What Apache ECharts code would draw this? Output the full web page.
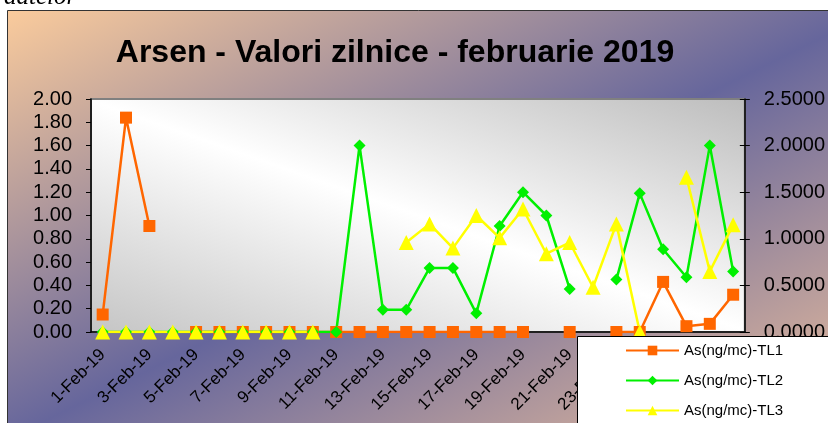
<!DOCTYPE html>
<html>
<head>
<meta charset="utf-8">
<script src="https://cdn.jsdelivr.net/npm/echarts@6/dist/echarts.min.js"></script>
<style>
  html, body { margin: 0; padding: 0; background: #fff; }
  #chart { width: 828px; height: 423px; }
</style>
</head>
<body>
<div id="chart"></div>
<script>
// zile februarie 2019
const days = []
for (let d = 1; d <= 28; d++) days.push(d + '-Feb-19')

// As(ng/mc) - valori (null = lipsa date)
const tl1 = [0.15, 1.84, 0.91, null, 0, 0, 0, 0, 0, 0, 0, 0, 0, 0, 0, 0, 0, 0, 0, null,
  0, null, 0, 0, 0.43, 0.05, 0.07, 0.32]
const tl2 = [0, 0, 0, 0, 0, 0, 0, 0, 0, 0, 0, 1.60, 0.19, 0.19, 0.55, 0.55, 0.16, 0.91, 1.20, 1.00,
  0.37, null, 0.45, 1.19, 0.71, 0.47, 1.60, 0.52]
// TL3 pe axa secundara
const tl3 = [0, 0, 0, 0, 0, 0, 0, 0, 0, 0, null, null, null, 0.96, 1.16, 0.90, 1.25, 1.01, 1.32, 0.84,
  0.96, 0.48, 1.16, 0, null, 1.66, 0.65, 1.15]

const seriesNames = ['As(ng/mc)-TL1', 'As(ng/mc)-TL2', 'As(ng/mc)-TL3']

const chart = echarts.init(document.getElementById('chart'))

const blackLine = { color: '#000', width: 1.5 }

const option = {
  animation: false,
  textStyle: { fontFamily: 'Liberation Sans, Arial, sans-serif' },
  graphic: [
    {
      type: 'rect',
      z: -10,
      shape: { x: 7.5, y: 10.5, width: 850, height: 440 },
      style: {
        fill: {
          type: 'linear', x: 0.296, y: -0.297, x2: 0.703, y2: 1.294,
          colorStops: [
            { offset: 0, color: '#fdcd9c' },
            { offset: 0.5, color: '#66669c' },
            { offset: 1, color: '#f6c69c' }
          ]
        },
        stroke: '#333',
        lineWidth: 1
      }
    },
    {
      type: 'text',
      left: 4,
      top: -15,
      style: { text: 'datelor', font: 'italic 25px "Liberation Serif", serif', fill: '#000' }
    },
    {
      type: 'rect',
      z: 50,
      shape: { x: 577.5, y: 336.5, width: 300, height: 100 },
      style: { fill: '#fff', stroke: '#000', lineWidth: 1 }
    }
  ],
  title: {
    text: 'Arsen - Valori zilnice - februarie 2019',
    left: 390,
    textAlign: 'center',
    top: 32,
    textStyle: { fontSize: 32, fontWeight: 'bold', color: '#000' }
  },
  legend: {
    data: seriesNames,
    orient: 'vertical',
    left: 625,
    top: 343,
    z: 60,
    padding: 0,
    itemWidth: 53,
    itemHeight: 12,
    itemGap: 15,
    textStyle: { fontSize: 15, color: '#000' }
  },
  grid: {
    left: 91,
    right: 81,
    top: 99,
    bottom: 91,
    show: true,
    borderColor: '#808080',
    borderWidth: 2,
    backgroundColor: {
      type: 'linear', x: 0.388, y: 1.389, x2: 0.612, y2: -0.389,
      colorStops: [
        { offset: 0, color: '#c4c4c4' },
        { offset: 0.5, color: '#ffffff' },
        { offset: 1, color: '#bcbcbc' }
      ]
    }
  },
  xAxis: [
    {
      type: 'category',
      data: days,
      position: 'bottom',
      boundaryGap: true,
      axisLine: { lineStyle: blackLine },
      axisTick: { interval: 0, length: 5, lineStyle: { color: '#000' } },
      axisLabel: { interval: 1, rotate: 45, fontSize: 17, color: '#000', margin: 20 }
    },
    {
      // doar liniutele din interior
      type: 'category',
      data: days,
      position: 'bottom',
      boundaryGap: true,
      axisLine: { show: false },
      axisTick: { interval: 0, inside: true, length: 5, lineStyle: { color: '#000' } },
      axisLabel: { show: false }
    }
  ],
  yAxis: [
    {
      type: 'value',
      min: 0,
      max: 2,
      interval: 0.2,
      splitLine: { show: false },
      axisLine: { show: true, lineStyle: blackLine },
      axisTick: { show: true, length: 5, lineStyle: { color: '#000' } },
      axisLabel: { fontSize: 20, color: '#000', margin: 19, formatter: v => v.toFixed(2) }
    },
    {
      type: 'value',
      min: 0,
      max: 2.5,
      interval: 0.5,
      position: 'right',
      splitLine: { show: false },
      axisLine: { show: true, lineStyle: blackLine },
      axisTick: { show: true, length: 5, lineStyle: { color: '#000' } },
      axisLabel: { fontSize: 20, color: '#000', margin: 19, formatter: v => v.toFixed(4) }
    },
    {
      type: 'value',
      min: 0,
      max: 2.5,
      interval: 0.5,
      position: 'right',
      splitLine: { show: false },
      axisLine: { show: false },
      axisTick: { show: true, inside: true, length: 5, lineStyle: { color: '#000' } },
      axisLabel: { show: false }
    }
  ],
  series: [
    {
      name: seriesNames[0],
      type: 'line',
      data: tl1,
      symbol: 'rect',
      symbolSize: 12,
      color: '#ff6600',
      lineStyle: { width: 2.5 }
    },
    {
      name: seriesNames[1],
      type: 'line',
      data: tl2,
      symbol: 'diamond',
      symbolSize: 12,
      color: '#00f000',
      lineStyle: { width: 2.5 }
    },
    {
      name: seriesNames[2],
      type: 'line',
      yAxisIndex: 1,
      data: tl3,
      symbol: 'triangle',
      symbolSize: 15,
      color: '#ffff00',
      lineStyle: { width: 2.5 }
    }
  ]
}

chart.setOption(option)
</script>
</body>
</html>
